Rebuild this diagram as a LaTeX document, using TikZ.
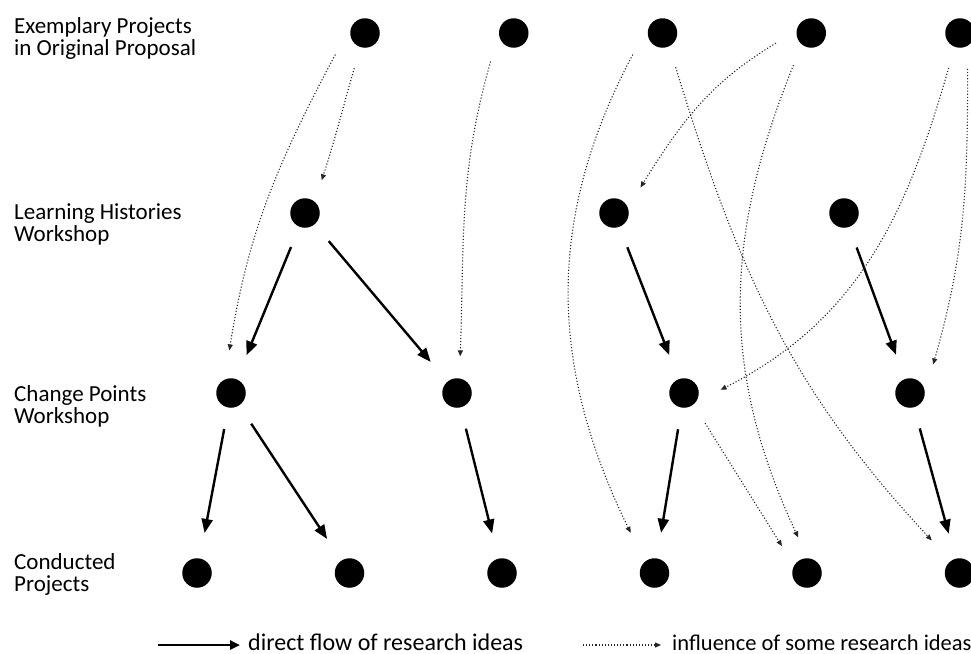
\documentclass[tikz,border=0pt]{standalone}
\usepackage{fontspec}
\setmainfont{Carlito}
\usetikzlibrary{positioning,arrows.meta}

\begin{document}
\begin{tikzpicture}[x=1pt, y=1pt, on grid,
    dot/.style={circle, fill=black, minimum size=29.5pt, inner sep=0pt, outer sep=22pt},
    flow/.style={line width=2.4pt, -{Triangle[length=14pt, width=11pt]}, shorten >=4pt},
    infl/.style={line width=1.1pt, dotted, black!85, -{Triangle[length=6pt, width=5pt]}},
    lbl/.style={align=left, anchor=west, inner sep=0pt, font=\fontsize{23}{22}\selectfont},
    legend/.style={anchor=base west, inner sep=0pt, font=\fontsize{24}{24}\selectfont}]
    \useasboundingbox (0,0) rectangle (971,-653);

    \node [lbl] (prop_lbl) at (14,-38) {Exemplary Projects\\in Original Proposal};
    \node [lbl] (hist_lbl) at (14,-224) {Learning Histories\\Workshop};
    \node [lbl] (change_lbl) at (14,-406) {Change Points\\Workshop};
    \node [lbl] (proj_lbl) at (14,-574) {Conducted\\Projects};

    \node [dot] (prop1) at (365,-33) {};
    \node [dot, right=148.75pt of prop1] (prop2) {};
    \node [dot, right=148.75pt of prop2] (prop3) {};
    \node [dot, right=148.75pt of prop3] (prop4) {};
    \node [dot, right=148.75pt of prop4] (prop5) {};

    \node [dot] (hist1) at (305,-213) {};
    \node [dot] (hist2) at (614,-213) {};
    \node [dot] (hist3) at (844,-213) {};

    \node [dot] (change1) at (231,-393) {};
    \node [dot] (change2) at (457,-393) {};
    \node [dot] (change3) at (684,-393) {};
    \node [dot] (change4) at (910,-393) {};

    \node [dot] (proj1) at (197,-573) {};
    \node [dot, right=152.5pt of proj1] (proj2) {};
    \node [dot, right=152.5pt of proj2] (proj3) {};
    \node [dot, right=152.5pt of proj3] (proj4) {};
    \node [dot, right=152.5pt of proj4] (proj5) {};
    \node [dot, right=152.5pt of proj5] (proj6) {};

    \draw[flow] (hist1) -- (change1);
    \draw[flow] (hist1) -- (change2);
    \draw[flow] (hist2) -- (change3);
    \draw[flow] (hist3) -- (change4);
    \draw[flow] (change1) -- (proj1);
    \draw[flow] (change1) -- (proj2);
    \draw[flow] (change2) -- (proj3);
    \draw[flow] (change3) -- (proj4);
    \draw[flow] (change4) -- (proj6);

    \draw[infl, shorten >=6pt] (prop1.216) to[out=242, in=81] (change1.94);
    \draw[infl] (prop1.253) to[out=254, in=72] (hist1.63);
    \draw[infl] (prop2.231) to[out=254, in=88] (change2.85);
    \draw[infl, shorten >=10pt] (prop3.216) to[out=242, in=116] (proj4.122);
    \draw[infl, shorten >=6pt] (prop3.291) to[out=287, in=133] (proj6.130);
    \draw[infl] (prop4.196) to[out=211, in=58] (hist2.44);
    \draw[infl] (prop4.241) to[out=248, in=115] (proj5.104);
    \draw[infl] (prop5.252) to[out=254, in=27] (change3.5);
    \draw[infl] (prop5.282) to[out=270, in=74] (change4.51);
    \draw[infl] (change3.305) -- (proj5.133);

    % Legend
    \coordinate (flow_start) at (158,-645);
    \node [legend] (flow_txt) at (248,-650) {direct flow of research ideas};
    \draw[line width=2.4pt, -{Triangle[length=10pt, width=9pt]}] (flow_start) -- ([xshift=-8pt]flow_start -| flow_txt.west);
    \coordinate (infl_start) at (583,-645);
    \node [legend, font=\fontsize{22.5}{24}\selectfont] (infl_txt) at (672,-650) {influence of some research ideas};
    \draw[infl] (infl_start) -- ([xshift=-11pt]infl_start -| infl_txt.west);

\end{tikzpicture}
\end{document}
